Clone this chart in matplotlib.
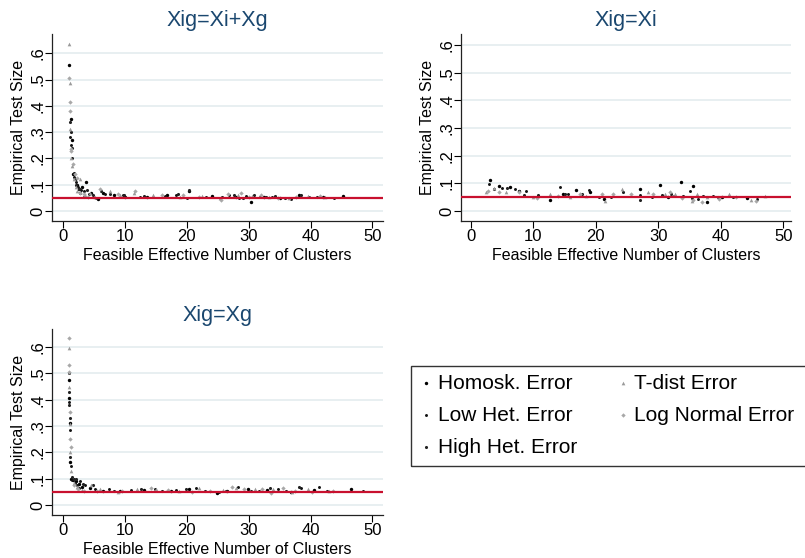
"""
Empirical test size vs feasible effective number of clusters,
three designs (Xig=Xi+Xg, Xig=Xi, Xig=Xg), Stata-style panels.
"""
import matplotlib
matplotlib.use("Agg")
import matplotlib.pyplot as plt
from matplotlib.patches import Rectangle

plt.rcParams["font.family"] = ["Liberation Sans", "DejaVu Sans"]

SERIES = ["Homosk. Error", "Low Het. Error", "High Het. Error",
          "T-dist Error", "Log Normal Error"]
TITLES = ["Xig=Xi+Xg", "Xig=Xi", "Xig=Xg"]
NOMINAL = 0.05

# ---- panel 1: Xig=Xi+Xg
a_homo_x = [1.0, 1.2, 1.4, 1.6, 1.9, 2.2, 2.6, 3.1, 3.7, 4.5, 5.6, 6.5, 8.2, 10.0,
            13.5, 16.8, 20.3, 24.0, 27.9, 30.3, 32.4, 35.0, 38.2, 42.0, 45.2]
a_homo_y = [0.555, 0.35, 0.27, 0.14, 0.12, 0.10, 0.085, 0.09, 0.11, 0.07, 0.045, 0.07,
            0.06, 0.055, 0.055, 0.06, 0.075, 0.058, 0.055, 0.035, 0.055, 0.05, 0.06,
            0.055, 0.058]
a_low_x = [1.1, 1.3, 1.5, 1.8, 2.0, 2.4, 2.9, 3.4, 4.1, 5.3, 6.8, 9.6, 12.4, 16.5,
           18.2, 20.1, 23.1, 26.8, 28.4, 29.6, 31.8, 33.7, 36.9, 39.8, 43.8]
a_low_y = [0.28, 0.25, 0.2, 0.13, 0.11, 0.09, 0.08, 0.075, 0.065, 0.05, 0.065, 0.06,
           0.055, 0.058, 0.062, 0.05, 0.055, 0.06, 0.05, 0.058, 0.055, 0.052, 0.045,
           0.055, 0.048]
a_high_x = [1.05, 1.25, 1.45, 1.7, 2.1, 2.5, 2.8, 3.3, 3.9, 4.8, 6.2, 7.5, 9.9, 13.0,
            18.5, 20.4, 25.6, 27.6, 29.0, 30.8, 32.8, 34.2, 35.8, 38.4, 41.0]
a_high_y = [0.34, 0.30, 0.24, 0.145, 0.10, 0.085, 0.07, 0.055, 0.08, 0.06, 0.075, 0.065,
            0.06, 0.058, 0.065, 0.08, 0.052, 0.062, 0.048, 0.06, 0.052, 0.058, 0.05,
            0.06, 0.052]
a_tdist_x = [1.0, 1.05, 1.15, 1.3, 1.5, 1.75, 2.0, 2.3, 2.8, 3.5, 4.3, 5.2, 7.6, 9.2,
             11.5, 14.6, 18.9, 22.4, 25.4, 28.3, 30.5, 33.3, 36.5, 39.5, 42.3]
a_tdist_y = [0.635, 0.485, 0.31, 0.2, 0.17, 0.12, 0.09, 0.075, 0.12, 0.06, 0.07, 0.055,
             0.075, 0.06, 0.07, 0.06, 0.055, 0.058, 0.05, 0.062, 0.058, 0.055, 0.048,
             0.058, 0.055]
a_lnorm_x = [1.02, 1.08, 1.12, 1.2, 1.35, 1.6, 1.85, 2.2, 2.7, 3.3, 4.0, 6.0, 8.8, 11.6,
             15.9, 19.4, 22.0, 25.5, 26.6, 28.8, 30.1, 32.0, 34.8, 37.7, 41.5]
a_lnorm_y = [0.505, 0.415, 0.38, 0.235, 0.23, 0.18, 0.14, 0.125, 0.07, 0.065, 0.055,
             0.085, 0.065, 0.075, 0.06, 0.06, 0.052, 0.04, 0.065, 0.07, 0.055, 0.06,
             0.05, 0.055, 0.058]

# ---- panel 2: Xig=Xi
b_homo_x = [3.1, 4.5, 6.3, 7.8, 12.7, 14.7, 16.9, 19.1, 21.3, 27.0, 30.2, 31.5, 33.6,
            35.6, 37.8, 40.2, 44.2]
b_homo_y = [0.114, 0.09, 0.086, 0.072, 0.04, 0.06, 0.077, 0.068, 0.042, 0.08, 0.094,
            0.05, 0.105, 0.09, 0.031, 0.05, 0.048]
b_low_x = [3.0, 5.0, 7.1, 8.9, 14.3, 15.5, 18.9, 22.5, 27.1, 29.0, 32.5, 35.1, 36.4,
           38.8, 45.8]
b_low_y = [0.096, 0.085, 0.079, 0.074, 0.088, 0.06, 0.075, 0.05, 0.058, 0.05, 0.055,
           0.072, 0.045, 0.055, 0.045]
b_high_x = [3.8, 5.8, 8.5, 10.8, 15.0, 17.8, 20.5, 24.4, 27.1, 30.6, 32.0, 33.9, 35.3,
            37.2, 39.5, 42.0]
b_high_y = [0.078, 0.082, 0.058, 0.058, 0.06, 0.06, 0.05, 0.068, 0.04, 0.058, 0.06,
            0.055, 0.048, 0.055, 0.052, 0.05]
b_tdist_x = [2.4, 3.8, 5.6, 9.9, 12.6, 15.9, 18.5, 21.4, 24.2, 28.3, 31.0, 32.6, 35.3,
             36.1, 37.8, 41.3, 44.8, 47.0]
b_tdist_y = [0.068, 0.083, 0.068, 0.05, 0.063, 0.052, 0.056, 0.038, 0.078, 0.068, 0.06,
             0.06, 0.036, 0.063, 0.052, 0.06, 0.04, 0.054]
b_lnorm_x = [2.8, 4.6, 7.8, 10.6, 13.9, 17.5, 21.0, 22.7, 25.6, 29.1, 31.8, 33.7, 35.6,
             37.0, 39.7, 42.4, 45.6]
b_lnorm_y = [0.073, 0.068, 0.07, 0.048, 0.055, 0.06, 0.062, 0.06, 0.06, 0.06, 0.068,
             0.046, 0.04, 0.033, 0.042, 0.052, 0.038]

# ---- panel 3: Xig=Xg
c_homo_x = [1.0, 1.0, 1.05, 1.1, 1.3, 1.6, 2.0, 2.5, 3.0, 4.3, 6.5, 9.2, 13.0, 17.5,
            20.3, 24.9, 26.5, 29.8, 33.0, 36.8, 40.6, 46.5]
c_homo_y = [0.475, 0.405, 0.31, 0.165, 0.1, 0.095, 0.09, 0.08, 0.07, 0.065, 0.055,
            0.055, 0.058, 0.055, 0.062, 0.045, 0.052, 0.06, 0.058, 0.05, 0.058, 0.06]
c_low_x = [1.0, 1.02, 1.08, 1.2, 1.5, 1.9, 2.3, 2.8, 3.5, 5.2, 7.4, 11.0, 14.8, 18.3,
           21.5, 25.2, 28.2, 31.6, 34.7, 38.5, 41.3, 48.5]
c_low_y = [0.5, 0.39, 0.285, 0.147, 0.095, 0.085, 0.075, 0.09, 0.075, 0.06, 0.06,
           0.058, 0.06, 0.058, 0.065, 0.05, 0.068, 0.055, 0.062, 0.065, 0.068, 0.055]
c_high_x = [1.0, 1.0, 1.05, 1.15, 1.4, 1.7, 2.1, 2.6, 3.2, 4.8, 8.3, 12.6, 16.0, 19.9,
            23.0, 26.3, 30.3, 33.4, 36.0, 38.1, 42.7]
c_high_y = [0.428, 0.38, 0.33, 0.184, 0.108, 0.098, 0.1, 0.065, 0.08, 0.075, 0.055,
            0.06, 0.055, 0.06, 0.052, 0.055, 0.055, 0.065, 0.052, 0.07, 0.055]
c_tdist_x = [1.0, 1.0, 1.05, 1.1, 1.3, 1.7, 2.2, 3.0, 4.5, 6.0, 8.8, 12.0, 15.0, 18.8,
             22.0, 25.8, 28.0, 31.0, 34.0, 37.0, 39.5, 43.0]
c_tdist_y = [0.598, 0.45, 0.308, 0.203, 0.128, 0.085, 0.07, 0.058, 0.075, 0.06, 0.05,
             0.06, 0.062, 0.055, 0.065, 0.058, 0.065, 0.06, 0.06, 0.048, 0.06, 0.052]
c_lnorm_x = [1.0, 1.0, 1.02, 1.05, 1.1, 1.25, 1.8, 2.4, 3.4, 5.5, 9.5, 14.2, 17.0,
             20.8, 23.8, 27.3, 29.3, 32.2, 33.6, 35.5, 37.5, 40.2, 43.6]
c_lnorm_y = [0.634, 0.532, 0.504, 0.352, 0.25, 0.222, 0.075, 0.06, 0.055, 0.055, 0.055,
             0.065, 0.058, 0.05, 0.055, 0.07, 0.06, 0.06, 0.045, 0.065, 0.055, 0.05,
             0.052]

PANELS = [
    [(a_homo_x, a_homo_y), (a_low_x, a_low_y), (a_high_x, a_high_y),
     (a_tdist_x, a_tdist_y), (a_lnorm_x, a_lnorm_y)],
    [(b_homo_x, b_homo_y), (b_low_x, b_low_y), (b_high_x, b_high_y),
     (b_tdist_x, b_tdist_y), (b_lnorm_x, b_lnorm_y)],
    [(c_homo_x, c_homo_y), (c_low_x, c_low_y), (c_high_x, c_high_y),
     (c_tdist_x, c_tdist_y), (c_lnorm_x, c_lnorm_y)],
]

# marker style per series
STYLE = [
    dict(marker="o", color="#000000", s=6),
    dict(marker="o", color="#111111", s=4.5),
    dict(marker="o", color="#222222", s=5),
    dict(marker="^", color="#9a9a9a", s=7),
    dict(marker="D", color="#a8a8a8", s=5),
]

TITLE_COL = "#1a476f"
GRID_COL = "#e6eef0"
RED = "#c8102e"

W, H = 805, 558
fig = plt.figure(figsize=(W / 100, H / 100), dpi=100)


def px_axes(left, top, right, bottom):
    return fig.add_axes([left / W, 1 - bottom / H, (right - left) / W, (bottom - top) / H])


boxes = [(52, 34, 383, 221), (461, 34, 791, 221), (52, 329, 383, 515)]
lims = [((-1.8, 51.7), (-0.038, 0.673)),
        ((-1.55, 51.2), (-0.036, 0.64)),
        ((-1.8, 51.7), (-0.038, 0.669))]

handles = []
for i, (box, (xl, yl)) in enumerate(zip(boxes, lims)):
    ax = px_axes(*box)
    for yv in [0, .1, .2, .3, .4, .5, .6]:
        ax.axhline(yv, color=GRID_COL, lw=1.3, zorder=0)
    for (xs, ys), st, name in zip(PANELS[i], STYLE, SERIES):
        h = ax.scatter(xs, ys, marker=st["marker"], s=st["s"], c=st["color"],
                       linewidths=0, zorder=3, label=name)
        if i == 0:
            handles.append(h)
    ax.axhline(NOMINAL, color=RED, lw=1.6, zorder=4)
    ax.set_xlim(*xl)
    ax.set_ylim(*yl)
    ax.set_xticks([0, 10, 20, 30, 40, 50])
    ax.set_yticks([0, .1, .2, .3, .4, .5, .6])
    ax.set_yticklabels(["0", ".1", ".2", ".3", ".4", ".5", ".6"])
    ax.tick_params(axis="y", labelrotation=90, length=5, width=0.8, labelsize=12, pad=0)
    ax.tick_params(axis="x", length=5, width=0.8, labelsize=12, pad=1)
    for lab in ax.get_yticklabels():
        lab.set_va("center")
    for side in ["top", "right"]:
        ax.spines[side].set_visible(False)
    for side in ["left", "bottom"]:
        ax.spines[side].set_color("#222222")
        ax.spines[side].set_linewidth(0.9)
    ax.set_xlabel("Feasible Effective Number of Clusters", fontsize=11.5, labelpad=3)
    ax.set_ylabel("Empirical Test Size", fontsize=11.5, labelpad=3)
    ax.set_title(TITLES[i], color=TITLE_COL, fontsize=15.5, pad=6)

# legend box (runs off the right edge as in the original)
fig.patches.append(Rectangle((411 / W, 1 - 466 / H), (W + 10 - 411) / W, 100 / H,
                             transform=fig.transFigure, fill=False,
                             edgecolor="#333333", lw=1.0))
leg = fig.legend(handles=handles, loc="upper left",
                 bbox_to_anchor=(398 / W, 1 - 355 / H), ncol=2, frameon=False,
                 fontsize=15, markerscale=1.0, handletextpad=0.1,
                 columnspacing=1.75, labelspacing=0.62, handlelength=0.9)

fig.savefig("out.png", dpi=100, facecolor="white")
